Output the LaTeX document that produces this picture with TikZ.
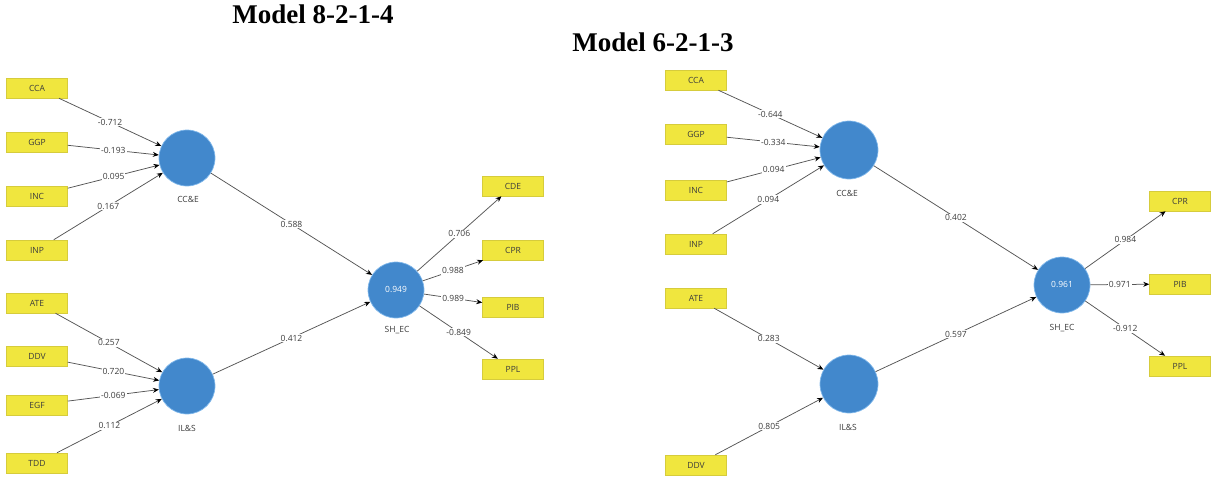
\documentclass[tikz,border=0pt]{standalone}
\usepackage{fontspec}
\setmainfont{Liberation Serif}
\newfontfamily\uifont{Open Sans}
\usetikzlibrary{arrows.meta}
\definecolor{boxyellow}{RGB}{240,230,62}
\definecolor{boxedge}{RGB}{214,204,60}
\definecolor{lvblue}{RGB}{66,136,204}
\definecolor{lvedge}{RGB}{130,185,235}
\definecolor{edgegray}{RGB}{85,85,85}
\definecolor{txtgray}{RGB}{60,60,60}
\tikzset{
  ind/.style={draw=boxedge, line width=0.5pt, fill=boxyellow, minimum width=61pt, minimum height=20pt, inner sep=0pt,
    font=\uifont\fontsize{8.5}{10}\selectfont, text=txtgray},
  lv/.style={circle, draw=lvedge, line width=0.7pt, fill=lvblue, minimum size=56pt, inner sep=0pt,
    font=\uifont\fontsize{8.5}{10}\selectfont, text=white},
  lvname/.style={font=\uifont\fontsize{8.5}{10}\selectfont, text=txtgray, inner sep=1pt},
  path/.style={draw=edgegray, line width=0.75pt, -{Stealth[length=6pt,width=5pt,black]}},
  coef/.style={fill=white, inner sep=1pt, font=\uifont\fontsize{8.5}{10}\selectfont, text=txtgray},
  ttl/.style={font=\fontsize{27}{30}\selectfont\bfseries, anchor=base, inner sep=0pt}
}
\begin{document}
\begin{tikzpicture}[x=1pt,y=-1pt]
\useasboundingbox (0,0) rectangle (1212,477);
% titles
\node[ttl] (t1) at (313,23) {Model 8-2-1-4};
\node[ttl] (t2) at (653,51) {Model 6-2-1-3};

% ---------- left model ----------
\node[ind] (lCCA) at (37,88) {CCA};
\node[ind] (lGGP) at (37,142) {GGP};
\node[ind] (lINC) at (37,196) {INC};
\node[ind] (lINP) at (37,250) {INP};
\node[ind] (lATE) at (37,303) {ATE};
\node[ind] (lDDV) at (37,356) {DDV};
\node[ind] (lEGF) at (37,405) {EGF};
\node[ind] (lTDD) at (37,463) {TDD};

\node[lv] (lCCE) at (187,158) {};
\node[lvname] (lCCEn) at (188,199) {CC\&E};
\node[lv] (lILS) at (187,386) {};
\node[lvname] (lILSn) at (187,428) {IL\&S};
\node[lv] (lSH) at (396,290) {\raisebox{2pt}{0.949}};
\node[lvname] (lSHn) at (397,330) {SH\_EC};

\node[ind] (lCDE) at (513,186) {CDE};
\node[ind] (lCPR) at (513,250) {CPR};
\node[ind] (lPIB) at (513,307) {PIB};
\node[ind] (lPPL) at (513,369) {PPL};

\draw[path] (lCCA) -- node[coef] {-0.712} (lCCE);
\draw[path] (lGGP) -- node[coef] {-0.193} (lCCE);
\draw[path] (lINC) -- node[coef] {0.095} (lCCE);
\draw[path] (lINP) -- node[coef] {0.167} (lCCE);
\draw[path] (lATE) -- node[coef] {0.257} (lILS);
\draw[path] (lDDV) -- node[coef] {0.720} (lILS);
\draw[path] (lEGF) -- node[coef] {-0.069} (lILS);
\draw[path] (lTDD) -- node[coef] {0.112} (lILS);
\draw[path] (lCCE) -- node[coef] {0.588} (lSH);
\draw[path] (lILS) -- node[coef] {0.412} (lSH);
\draw[path] (lSH) -- node[coef] {0.706} (lCDE);
\draw[path] (lSH) -- node[coef] {0.988} (lCPR);
\draw[path] (lSH) -- node[coef] {0.989} (lPIB);
\draw[path] (lSH) -- node[coef] {-0.849} (lPPL);

% ---------- right model ----------
\node[ind] (rCCA) at (696,80) {CCA};
\node[ind] (rGGP) at (696,134) {GGP};
\node[ind] (rINC) at (696,190) {INC};
\node[ind] (rINP) at (696,244) {INP};
\node[ind] (rATE) at (696,298) {ATE};
\node[ind] (rDDV) at (696,465) {DDV};

\node[lv, minimum size=58pt] (rCCE) at (849,150) {};
\node[lvname] (rCCEn) at (847,193) {CC\&E};
\node[lv, minimum size=58pt] (rILS) at (849,384) {};
\node[lvname] (rILSn) at (848,427) {IL\&S};
\node[lv] (rSH) at (1062,285) {\raisebox{2pt}{0.961}};
\node[lvname] (rSHn) at (1062,328) {SH\_EC};

\node[ind] (rCPR) at (1180,201) {CPR};
\node[ind] (rPIB) at (1180,284) {PIB};
\node[ind] (rPPL) at (1180,366) {PPL};

\draw[path] (rCCA) -- node[coef] {-0.644} (rCCE);
\draw[path] (rGGP) -- node[coef] {-0.334} (rCCE);
\draw[path] (rINC) -- node[coef] {0.094} (rCCE);
\draw[path] (rINP) -- node[coef] {0.094} (rCCE);
\draw[path] (rATE) -- node[coef] {0.283} (rILS);
\draw[path] (rDDV) -- node[coef] {0.805} (rILS);
\draw[path] (rCCE) -- node[coef] {0.402} (rSH);
\draw[path] (rILS) -- node[coef] {0.597} (rSH);
\draw[path] (rSH) -- node[coef] {0.984} (rCPR);
\draw[path] (rSH) -- node[coef] {0.971} (rPIB);
\draw[path] (rSH) -- node[coef] {-0.912} (rPPL);
\end{tikzpicture}
\end{document}
